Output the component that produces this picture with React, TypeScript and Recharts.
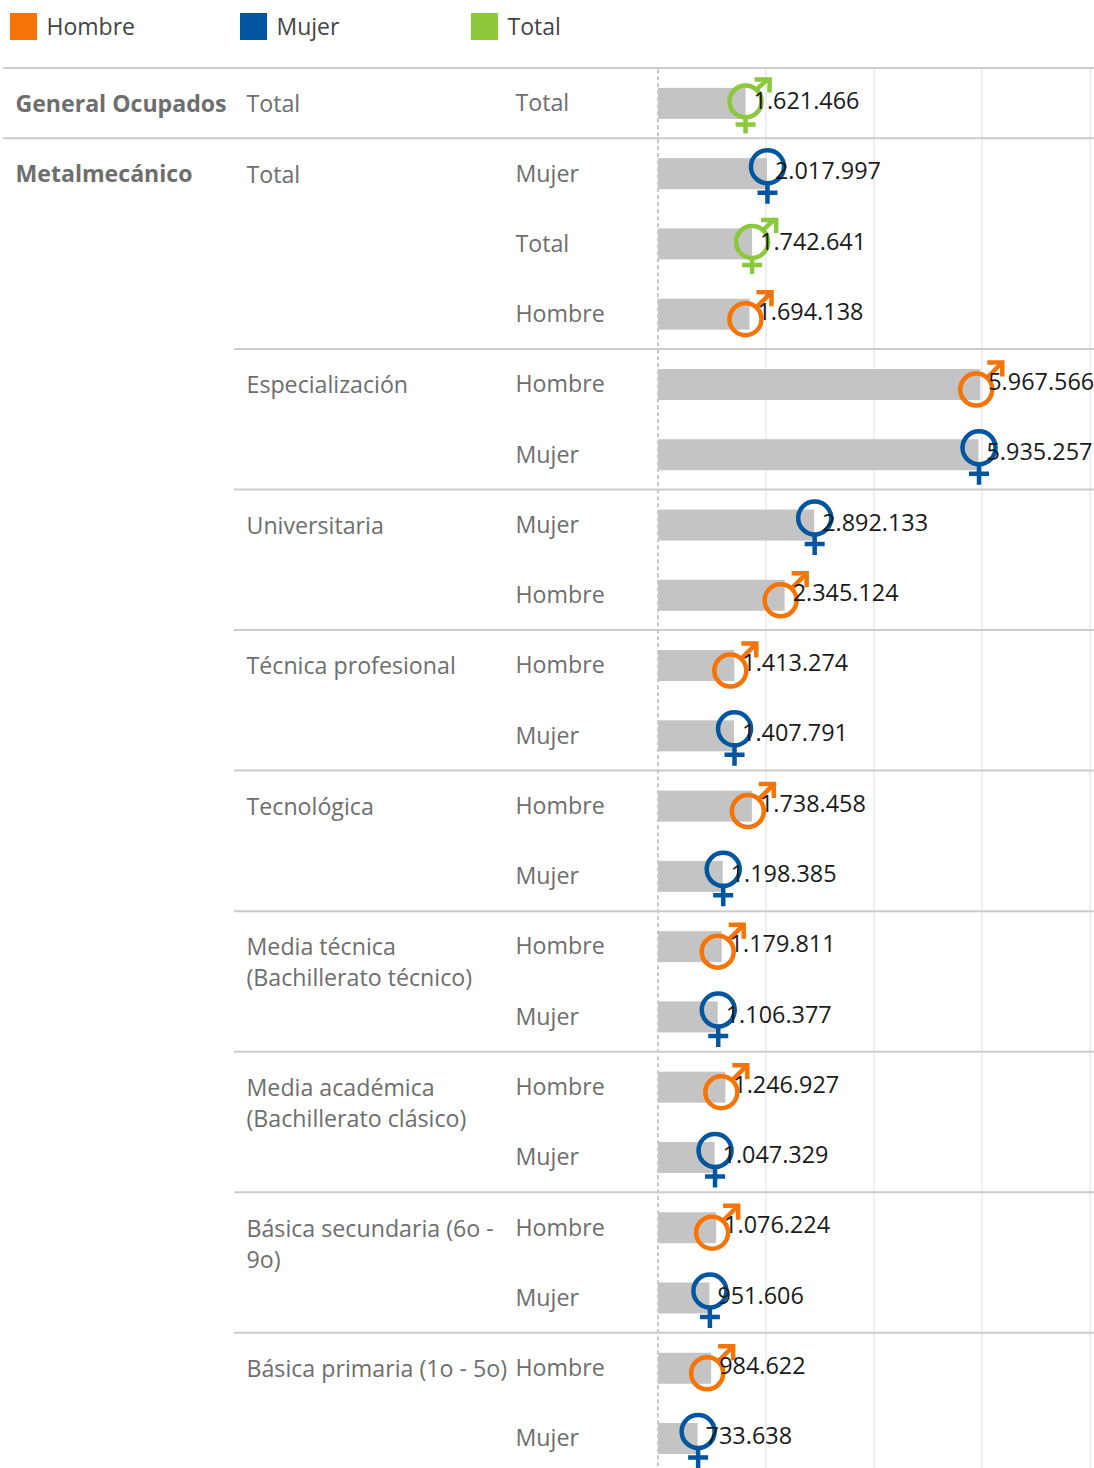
import { Bar, BarChart, CartesianGrid, LabelList, Legend, ReferenceLine, XAxis, YAxis } from "recharts"

const FONT = "'Open Sans', sans-serif"
const SEX_COLORS: Record<string, string> = { Hombre: "#f47405", Mujer: "#02569f", Total: "#8bc83c" }
const LEGEND_X = [10, 240, 471]
const TEXT_COLOR = "#6e6e6e"
const X_MAX = 8000000

const legendItems = ["Hombre", "Mujer", "Total"]
const xTicks = [2000000, 4000000, 6000000, 8000000]

const groups = ["General Ocupados", "Metalmecánico", "", "", "", "", "", "", "", "", "", "", "", "", "", "", "", "", "", ""]
const levels = [
  "Total", "Total", "", "",
  "Especialización", "",
  "Universitaria", "",
  "Técnica profesional", "",
  "Tecnológica", "",
  "Media técnica|(Bachillerato técnico)", "",
  "Media académica|(Bachillerato clásico)", "",
  "Básica secundaria (6o -|9o)", "",
  "Básica primaria (1o - 5o)", "",
]
const sexes = [
  "Total", "Mujer", "Total", "Hombre", "Hombre", "Mujer", "Mujer", "Hombre", "Hombre", "Mujer",
  "Hombre", "Mujer", "Hombre", "Mujer", "Hombre", "Mujer", "Hombre", "Mujer", "Hombre", "Mujer",
]
const values = [
  1621466, 2017997, 1742641, 1694138, 5967566, 5935257, 2892133, 2345124, 1413274, 1407791,
  1738458, 1198385, 1179811, 1106377, 1246927, 1047329, 1076224, 951606, 984622, 733638,
]

const data = values.map((value, i) => ({ id: i, value, sex: sexes[i], level: levels[i], group: groups[i] }))

const fmt = (n: number) => String(n).replace(/\B(?=(\d{3})+$)/g, ".")

function SexIcon({ cx, cy, sex }: { cx: number; cy: number; sex: string }) {
  const color = SEX_COLORS[sex]
  const common = { fill: "none", stroke: color, strokeWidth: 4.5 }
  if (sex === "Hombre") {
    const c = { x: cx - 4, y: cy + 5 }
    return (
      <g>
        <circle cx={c.x} cy={c.y} r={16} {...common} />
        <path d={`M${c.x + 11} ${c.y - 12}L${c.x + 26} ${c.y - 27}`} {...common} />
        <path d={`M${c.x + 11} ${c.y - 27}H${c.x + 26}V${c.y - 13}`} {...common} />
      </g>
    )
  }
  if (sex === "Mujer") {
    const c = { x: cx + 0.5, y: cy - 7 }
    return (
      <g>
        <circle cx={c.x} cy={c.y} r={16.5} {...common} />
        <path d={`M${c.x} ${c.y + 16}V${c.y + 37}M${c.x - 10} ${c.y + 26}H${c.x + 10}`} {...common} />
      </g>
    )
  }
  const c = { x: cx, y: cy - 2 }
  return (
    <g>
      <circle cx={c.x} cy={c.y} r={16} {...common} />
      <path d={`M${c.x + 11} ${c.y - 12}L${c.x + 23} ${c.y - 23}`} {...common} />
      <path d={`M${c.x + 9} ${c.y - 22}H${c.x + 24}V${c.y - 9}`} {...common} />
      <path d={`M${c.x} ${c.y + 16}V${c.y + 32}M${c.x - 10} ${c.y + 23}H${c.x + 10}`} {...common} />
    </g>
  )
}

function BarWithIcon(props: any) {
  const { x, y, width, height, payload } = props
  return (
    <g>
      <rect x={x} y={y} width={width} height={height} fill="#c4c4c4" />
      <SexIcon cx={x + width} cy={y + height / 2} sex={payload.sex} />
    </g>
  )
}

function ValueLabel(props: any) {
  const { x, y, width, height, value } = props
  return (
    <text x={x + width + 8} y={y + height / 2 - 0.6} dominantBaseline="middle" fontFamily={FONT} fontSize={23.4} fill="#1a1a1a">
      {fmt(value)}
    </text>
  )
}

// left columns and separators hang off the category ticks
function RowTick(props: any) {
  const { y, payload } = props
  const row = data[payload.value]
  const top = y - 35.13
  const lines = row.level ? row.level.split("|") : []
  return (
    <g fontFamily={FONT} fontSize={23.2} fill={TEXT_COLOR}>
      {row.group && (
        <>
          <line x1={3} x2={1094} y1={top} y2={top} stroke="#cccccc" strokeWidth={2} />
          <text x={15.5} y={y + 3} dominantBaseline="middle" fontWeight={700} fontSize={23.1}>{row.group}</text>
        </>
      )}
      {row.level && !row.group && <line x1={234} x2={1094} y1={top} y2={top} stroke="#cccccc" strokeWidth={2} />}
      {lines.map((line: string, i: number) => (
        <text key={i} x={246.5} y={y + 3 + i * 31} dominantBaseline="middle">{line}</text>
      ))}
      <text x={515.5} y={y + 2} dominantBaseline="middle">{row.sex}</text>
    </g>
  )
}

function TopLegend() {
  return (
    <div style={{ position: "relative", height: 60 }}>
      {legendItems.map((name, i) => (
        <div key={name} style={{ position: "absolute", left: LEGEND_X[i], top: 13, display: "flex", alignItems: "center" }}>
          <span style={{ width: 27, height: 27, background: SEX_COLORS[name], display: "inline-block" }} />
          <span style={{ marginLeft: 9.5, fontFamily: FONT, fontSize: 23, color: "#444444", lineHeight: "27px" }}>{name}</span>
        </div>
      ))}
    </div>
  )
}

export default function App() {
  return (
    <div style={{ position: "absolute", left: 0, top: 0, width: 1094, height: 1468, overflow: "hidden", background: "#fff" }}>
      <BarChart
        width={1094}
        height={1474}
        data={data}
        layout="vertical"
        barSize={31}
        margin={{ top: 7.9, right: 4, bottom: 0.7, left: 0 }}
      >
        <Legend verticalAlign="top" align="left" height={60} content={() => <TopLegend />} wrapperStyle={{ left: 0, top: 0, width: 1094 }} />
        <CartesianGrid
          horizontal={false}
          stroke="#eeeeee"
          strokeWidth={2}
          verticalCoordinatesGenerator={({ offset }: any) => xTicks.map((t) => offset.left + (t / X_MAX) * offset.width)}
        />
        <XAxis type="number" domain={[0, X_MAX]} ticks={xTicks} interval={0} height={0} tick={false} axisLine={false} tickLine={false} />
        <YAxis type="category" dataKey="id" width={658} interval={0} axisLine={false} tickLine={false} tick={<RowTick />} />
        <ReferenceLine x={0} stroke="#c8c8c8" strokeWidth={2} strokeDasharray="4 3" />
        <Bar dataKey="value" isAnimationActive={false} shape={<BarWithIcon />}>
          <LabelList dataKey="value" content={<ValueLabel />} />
        </Bar>
      </BarChart>
    </div>
  )
}
